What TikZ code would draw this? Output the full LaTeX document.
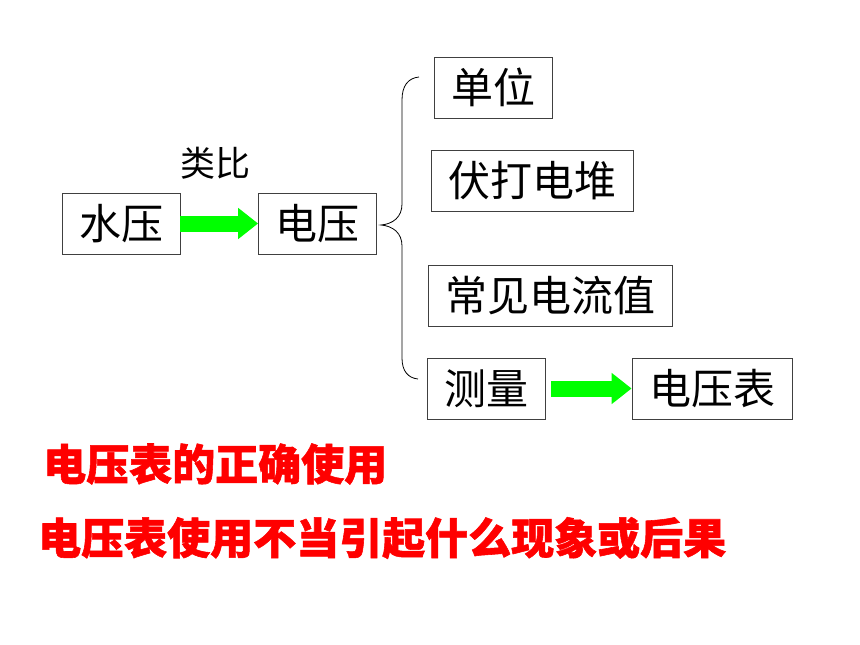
\documentclass[tikz,border=0pt]{standalone}
\usepackage{fontspec}
\newfontfamily\cjk{Noto Sans CJK SC}[BoldFeatures={FakeBold=1.3}]
\usetikzlibrary{arrows.meta}
\definecolor{boxline}{HTML}{404040}
\definecolor{arrowgreen}{HTML}{00FF00}
\definecolor{notered}{HTML}{FF0000}

\begin{document}
\begin{tikzpicture}[x=1pt,y=-1pt,
    box/.style={draw=boxline,line width=0.8pt,minimum height=61pt,inner xsep=17pt,
      font=\cjk\fontsize{42}{50}\selectfont},
    flow/.style={arrowgreen,line width=16pt,-{Triangle[length=20pt,width=30pt]}},
    note/.style={notered,anchor=west,inner sep=0pt,font=\cjk\bfseries\fontsize{43}{50}\selectfont}]
    \useasboundingbox (0,0) rectangle (860,645);
    % left chain
    \node[box] (shuiya) at (121,223.5) {水压};
    \node[box] (dianya) at (317.5,223.5) {电压};
    \node[font=\cjk\fontsize{35}{40}\selectfont] (leibi) at (215,163) {类比};
    \draw[flow] (shuiya.east) -- (dianya.west);
    % items behind the brace
    \node[box] (danwei) at (493,87.5) {单位};
    \node[box] (futa) at (532.5,181) {伏打电堆};
    \node[box] (changjian) at (550,296) {常见电流值};
    \node[box] (celiang) at (486,388.5) {测量};
    \node[box] (biao) at (712,388.5) {电压表};
    \draw[flow] ([xshift=6pt]celiang.east) -- (biao.west);
    % brace
    \coordinate (bracetip) at (381,225);
    \draw[line width=0.8pt] (419,77) .. controls (408,78) and (402,86) .. (402,100)
      -- (402,204) .. controls (402,217) and (393,224) .. (bracetip)
      .. controls (393,226) and (402,233) .. (402,246)
      -- (402,358) .. controls (402,371) and (408,378) .. (418,379);
    % red notes
    \node[note] (zhengque) at (43,464) {电压表的正确使用};
    \node[note] (houguo) at (38,538) {电压表使用不当引起什么现象或后果};
\end{tikzpicture}
\end{document}
